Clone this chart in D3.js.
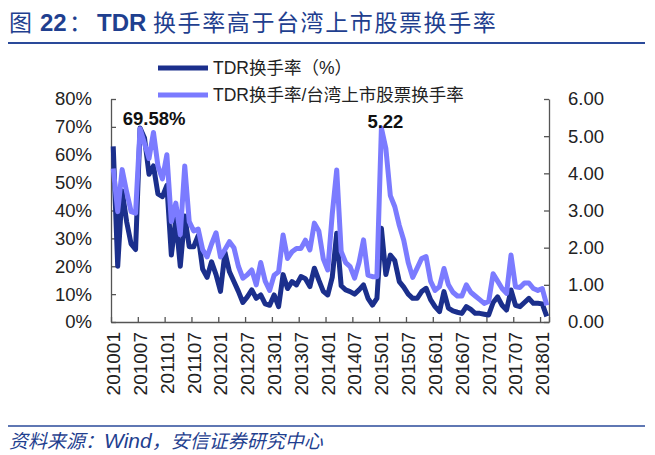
<!DOCTYPE html>
<html><head><meta charset="utf-8">
<script src="https://cdn.jsdelivr.net/npm/d3@7/dist/d3.min.js"></script>
<style>body{margin:0;background:#fff}svg{display:block}</style>
</head><body>
<svg id="c" width="655" height="455"></svg>
<script>
// ---- data ----
const months = [];
for (let y = 2010; y <= 2018; y++) for (let m = 1; m <= 12; m++) { if (months.length < 98) months.push(`${y}${String(m).padStart(2,'0')}`); }
const xTickLabels = ["201001","201007","201101","201107","201201","201207","201301","201307","201401","201407","201501","201507","201601","201607","201701","201707","201801"];
const leftTicks = [0,10,20,30,40,50,60,70,80];
const rightTicks = [0,1,2,3,4,5,6];
const seriesNames = ["TDR换手率（%）","TDR换手率/台湾上市股票换手率"];
// TDR turnover (%), left axis
const tdrRate = [63,20,47,36,28,26,69.58,66,53,56,46,45,49,24,37,20,38,27,27,31,
  19,16,21.6,17,11,25,18,14.5,11,7,9,11.5,8.5,9.7,6.5,6,9.7,5.5,17,12,
  14.5,13.3,16.3,15.5,12.7,19.3,15,11,9.7,16,31.8,13,11.5,10.9,10,11.5,13.3,8.5,6.1,8.5,
  33.6,17,24,22,14.5,12.5,10,8.5,8.5,10.9,12.1,8,5.5,3.7,10.9,5,4,3.5,3.1,5.5,
  4.5,3.1,3.1,2.8,2.5,7,9,6,4.3,11.5,6,5.5,7,8.5,6.7,6.7,6.5,2];
// TDR turnover / Taiwan listed turnover, right axis
const ratio = [4.13,2.97,4.1,3.5,2.97,2.93,5.2,4.8,4.4,5.1,4.2,3.85,4.5,2.7,3.2,2.35,4.2,2.7,2.45,2.5,
  1.95,1.75,2.1,2.4,1.75,1.95,2.16,2.0,1.5,1.18,1.27,1.4,1.0,1.6,1.1,0.85,1.26,1.35,2.34,1.71,
  1.89,1.98,1.98,2.2,1.94,2.66,2.45,1.7,1.4,2.9,4.09,1.9,1.6,1.49,1.18,1.6,2.21,1.26,1.22,1.22,
  5.22,4.67,3.4,3.1,2.6,2.2,1.6,1.2,1.45,1.71,1.76,1.1,0.85,0.95,1.44,1.0,0.8,0.7,0.7,1.0,
  0.8,0.7,0.6,0.5,0.55,1.3,1.1,0.9,0.77,1.8,0.95,0.93,1.05,1.05,0.9,0.85,0.9,0.45];

// ---- drawing ----
const svg = d3.select("#c");
const L = 111, R = 549, T = 99, B = 322;
const font = "'Liberation Sans', Arial, sans-serif";
const cjk = "'Liberation Sans', 'Noto Sans CJK SC', sans-serif";
const navy = "#1b2f8c", light = "#7b7bff", axisC = "#555";

// title
const title = svg.append("text").attr("y", 31).attr("fill", "#1f3f8f")
  .style("font-family", "'Noto Sans CJK SC', sans-serif").style("font-size", "23px");
title.append("tspan").attr("x", 9).text("图");
title.append("tspan").attr("x", 40).style("font-family", font).style("font-weight", "bold").style("font-size", "24px").text("22");
title.append("tspan").attr("x", 69).text("：");
title.append("tspan").attr("x", 97).style("font-family", font).style("font-weight", "bold").style("font-size", "24px").text("TDR");
title.append("tspan").attr("x", 153).style("letter-spacing", "1.6px").text("换手率高于台湾上市股票换手率");
svg.append("line").attr("x1", 8).attr("x2", 645).attr("y1", 43).attr("y2", 43).attr("stroke", "#2a4a9a").attr("stroke-width", 2);

// scales
const x = d3.scaleBand().domain(months).range([L, R]);
const xi = d3.scaleLinear().domain([0, months.length]).range([L, R]);
const yL = d3.scaleLinear().domain([0, 80]).range([B, T]);
const yR = d3.scaleLinear().domain([0, 6]).range([B, T]);
const cx = m => x(m) + x.bandwidth() / 2;

// axes
const gl = svg.append("g").attr("transform", `translate(${L},0)`)
  .call(d3.axisLeft(yL).tickValues(leftTicks).tickFormat(d => d + "%").tickSizeInner(-5).tickSizeOuter(0).tickPadding(19));
const gr = svg.append("g").attr("transform", `translate(${R},0)`)
  .call(d3.axisRight(yR).tickValues(rightTicks).tickFormat(d3.format(".2f")).tickSizeInner(-5).tickSizeOuter(0).tickPadding(19));
const bTicks = d3.range(0, months.length, 6).concat([months.length]);
const gb = svg.append("g").attr("transform", `translate(0,${B})`)
  .call(d3.axisBottom(xi).tickValues(bTicks).tickFormat("").tickSizeInner(-5).tickSizeOuter(0));
[gl, gr, gb].forEach(g => {
  g.selectAll("path,line").attr("stroke", axisC).attr("stroke-width", 1.3);
  g.selectAll("text").attr("fill", "#222").style("font-family", font).style("font-size", "18.5px");
});
// x labels
svg.append("g").selectAll("text").data(xTickLabels).join("text")
  .attr("transform", d => `translate(${cx(d)},332) rotate(-90)`)
  .attr("text-anchor", "end").attr("dy", "0.36em").attr("fill", "#222")
  .style("font-family", font).style("font-size", "19px").text(d => d);

// lines
const lineL = d3.line().x((d, i) => cx(months[i])).y(d => yL(d));
const lineR = d3.line().x((d, i) => cx(months[i])).y(d => yR(d));
svg.append("path").datum(tdrRate).attr("d", lineL).attr("fill", "none").attr("stroke", navy).attr("stroke-width", 5).attr("stroke-linejoin", "round");
svg.append("path").datum(ratio).attr("d", lineR).attr("fill", "none").attr("stroke", light).attr("stroke-width", 5).attr("stroke-linejoin", "round");

// data labels
const iMax = tdrRate.indexOf(d3.max(tdrRate));
svg.append("text").attr("x", cx(months[iMax]) + 14).attr("y", 125).attr("text-anchor", "middle")
  .style("font-family", font).style("font-weight", "bold").style("font-size", "18.5px").attr("fill", "#111")
  .text(d3.format(".2f")(tdrRate[iMax]) + "%");
const rMax = ratio.indexOf(d3.max(ratio));
svg.append("text").attr("x", cx(months[rMax]) + 4).attr("y", 128).attr("text-anchor", "middle")
  .style("font-family", font).style("font-weight", "bold").style("font-size", "18.5px").attr("fill", "#111")
  .text(d3.format(".2f")(ratio[rMax]));

// legend
const lg = svg.append("g");
[navy, light].forEach((c, k) => {
  const yy = 68 + k * 27;
  lg.append("line").attr("x1", 158).attr("x2", 208).attr("y1", yy).attr("y2", yy).attr("stroke", c).attr("stroke-width", 5);
  lg.append("text").attr("x", 213).attr("y", yy).attr("dy", "0.36em").attr("fill", "#222")
    .style("font-family", cjk).style("font-size", "17.5px").text(seriesNames[k]);
});

// footer
svg.append("line").attr("x1", 8).attr("x2", 645).attr("y1", 426).attr("y2", 426).attr("stroke", "#2a4a9a").attr("stroke-width", 1.5);
const ft = svg.append("text").attr("x", 9).attr("y", 448).attr("fill", "#1f3f8f")
  .style("font-family", "'Noto Sans CJK SC', sans-serif").style("font-size", "19px").style("font-style", "italic");
ft.append("tspan").text("资料来源：");
ft.append("tspan").style("font-family", font).style("font-size", "21px").text("Wind");
ft.append("tspan").text("，安信证券研究中心");
</script>
</body></html>
